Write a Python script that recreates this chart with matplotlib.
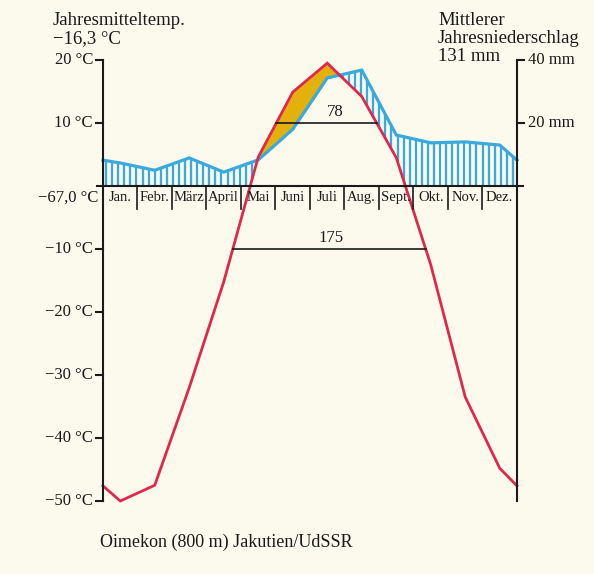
import numpy as np
import matplotlib
matplotlib.use("Agg")
import matplotlib.pyplot as plt

# ---------------- data ----------------
months = ["Jan.", "Febr.", "März", "April", "Mai", "Juni",
          "Juli", "Aug.", "Sept.", "Okt.", "Nov.", "Dez."]
temp_c = [-50.0, -47.5, -32.0, -15.2, 4.6, 14.9, 19.5, 14.2, 4.5, -12.5, -33.5, -44.8]
temp_edge = -47.6          # value of the curve at the diagram's left/right border
precip_mm = [7.3, 5.0, 8.9, 4.4, 8.3, 18.0, 34.3, 36.8, 16.2, 13.7, 14.0, 13.0]
precip_edge = 8.2
temp_ticks = [20, 10, -10, -20, -30, -40, -50]
precip_ticks = [40, 20]
abs_min_label = "−67,0 °C"
mean_temp_label = "−16,3 °C"
annual_precip_label = "131 mm"
days_above_10 = "78"
days_above_m10 = "175"
station = "Oimekon (800 m) Jakutien/UdSSR"

# ---------------- styling ----------------
W, H = 594, 574
BG = "#fcfaec"
RED = "#e0284f"
BLUE = "#3aa9dc"
GOLD = "#e3b00c"
SERIF = ["Liberation Serif", "DejaVu Serif"]
plt.rcParams["font.family"] = SERIF

fig = plt.figure(figsize=(W / 100, H / 100), dpi=100, facecolor=BG)
ax = fig.add_axes([0, 0, 1, 1])
ax.set_facecolor(BG)
ax.axis("off")

# map: month 0 -> px 103, month 12 -> px 517 ; 20 C -> px 60, 6.3 px per C
pxm = (517 - 103) / 12.0
pxc = 6.3
ax.set_xlim(-103 / pxm, 12 + (W - 517) / pxm)
ax.set_ylim(20 - (H - 60) / pxc, 20 + 60 / pxc)

x = np.concatenate([[0.0], np.arange(12) + 0.5, [12.0]])
t = np.concatenate([[temp_edge], temp_c, [temp_edge]])
p = np.concatenate([[precip_edge], precip_mm, [precip_edge]]) / 2.0  # 2 mm = 1 C

# hatching (humid period): vertical lines from max(0, T) up to P
xs = np.arange(0.09, 12.0, 0.176)
ti = np.interp(xs, x, t)
pi = np.interp(xs, x, p)
lo = np.maximum(ti, 0)
m = pi > lo
ax.vlines(xs[m], lo[m], pi[m], color=BLUE, lw=1.65, zorder=2)

# arid period: fill between P and T
xf = np.linspace(0, 12, 1201)
tf = np.interp(xf, x, t)
pf = np.interp(xf, x, p)
ax.fill_between(xf, pf, tf, where=tf > pf, color=GOLD, lw=0, zorder=2)

# curves
ax.plot(x, p, color=BLUE, lw=2.3, zorder=3, solid_joinstyle="miter")
ax.plot(x, t, color=RED, lw=2.0, zorder=4, solid_joinstyle="miter")

# axes
K = "#1a1a1a"
ax.plot([0, 0], [-50, 20], color=K, lw=1.5, zorder=5)
ax.plot([12, 12], [-50, 20], color=K, lw=1.5, zorder=5)
ax.plot([-0.17, 12.17], [0, 0], color=K, lw=1.5, zorder=5)
for i in range(1, 12):
    ax.plot([i, i], [0, -3.6], color=K, lw=1.2, zorder=5)
for i, name in enumerate(months):
    ax.text(i + 0.5, -1.9, name, ha="center", va="center", fontsize=10.5, color=K, zorder=6)

for v in temp_ticks:
    ax.plot([-0.2, 0], [v, v], color=K, lw=1.5, zorder=5)
    lab = (f"{v} °C" if v > 0 else f"−{abs(v)} °C")
    ax.text(-0.29, v, lab, ha="right", va="center", fontsize=12, color=K)
for v in precip_ticks:
    ax.plot([12, 12.2], [v / 2, v / 2], color=K, lw=1.5, zorder=5)
    ax.text(12.32, v / 2, f"{v} mm", ha="left", va="center", fontsize=12, color=K)
ax.text(-0.14, -1.9, abs_min_label, ha="right", va="center", fontsize=12, color=K)


def crossings(level):
    xc = []
    for i in range(len(x) - 1):
        a, b = t[i] - level, t[i + 1] - level
        if a * b < 0:
            xc.append(x[i] + (x[i + 1] - x[i]) * a / (a - b))
    return xc


c10 = crossings(10)
cm10 = crossings(-10)
ax.plot([c10[0], c10[-1]], [10, 10], color=K, lw=1.2, zorder=5)
ax.text(6.74, 11.8, days_above_10, ha="center", va="center", fontsize=12, color=K, zorder=6)
ax.plot([cm10[0], cm10[-1]], [-10, -10], color=K, lw=1.2, zorder=5)
ax.text(6.6, -8.2, days_above_m10, ha="center", va="center", fontsize=12, color=K, zorder=6)

# header / caption texts (pixel positions -> figure fraction)
def ftext(px, py, s, **kw):
    fig.text(px / W, 1 - py / H, s, va="baseline", color=K, **kw)

ftext(53, 25, "Jahresmitteltemp.", fontsize=13.5)
ftext(53, 43, mean_temp_label, fontsize=13.5)
ftext(438, 25, "Mittlerer", fontsize=13.5)
ftext(438, 43, "Jahresniederschlag", fontsize=13.5)
ftext(438, 61, annual_precip_label, fontsize=13.5)
ftext(100, 547, station, fontsize=13)

fig.savefig("out.png", dpi=100, facecolor=BG)
